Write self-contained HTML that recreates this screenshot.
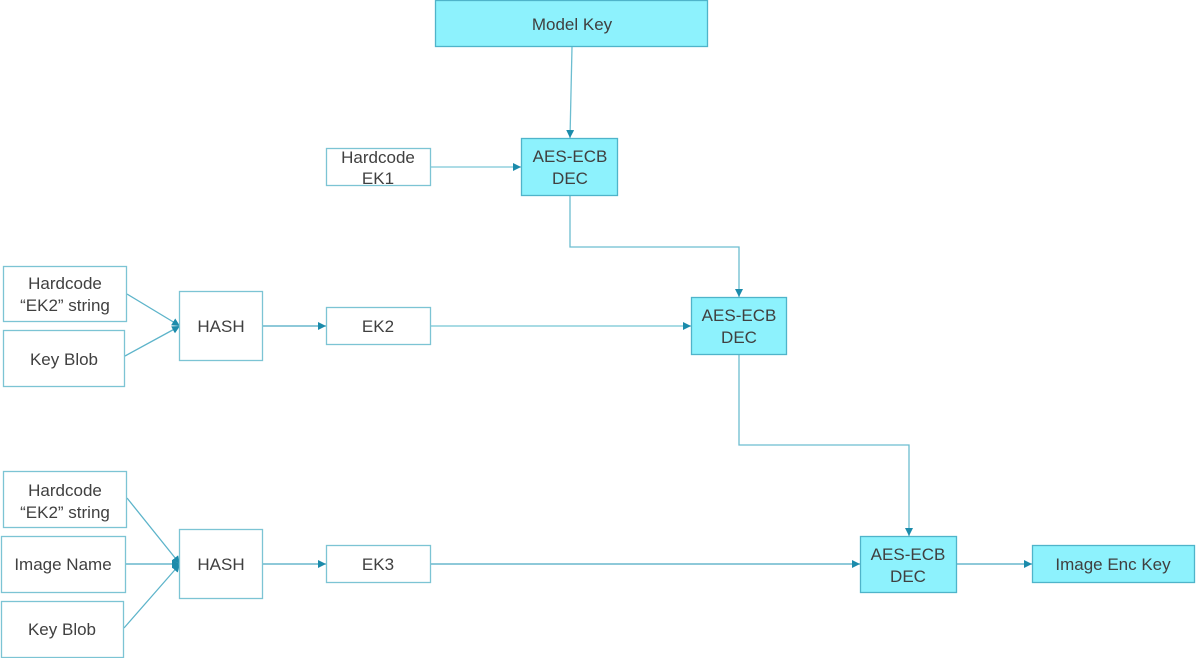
<!DOCTYPE html>
<html>
<head>
<meta charset="utf-8">
<style>
  html, body { margin: 0; padding: 0; background: #ffffff; }
  body { width: 1196px; height: 658px; overflow: hidden; }
  svg { display: block; }
  text { font-family: "Liberation Sans", sans-serif; font-size: 17px; fill: #404040; text-anchor: middle; }
</style>
</head>
<body>
<svg width="1196" height="658" viewBox="0 0 1196 658" xmlns="http://www.w3.org/2000/svg">
  <defs>
    <marker id="ah" markerUnits="userSpaceOnUse" markerWidth="10" markerHeight="10" refX="8" refY="4" orient="auto">
      <path d="M0,0 L8,4 L0,8 Z" fill="#1b8bab"/>
    </marker>
  </defs>

  <!-- Connectors -->
  <g fill="none" stroke-width="1.3">
    <!-- Model Key -> AES1 -->
    <line x1="572" y1="47" x2="570" y2="138" stroke="#6cbdd0" marker-end="url(#ah)"/>
    <!-- EK1 -> AES1 -->
    <line x1="431" y1="167" x2="521" y2="167" stroke="#7cc6d6" marker-end="url(#ah)"/>
    <!-- AES1 -> AES2 -->
    <polyline points="570,196 570,247 739,247 739,297" stroke="#6cbdd0" marker-end="url(#ah)"/>
    <!-- Hardcode -> HASH -->
    <line x1="127" y1="294" x2="180" y2="326" stroke="#5db4ca" marker-end="url(#ah)"/>
    <!-- Key Blob -> HASH -->
    <line x1="125" y1="356" x2="180" y2="326" stroke="#5db4ca" marker-end="url(#ah)"/>
    <!-- HASH -> EK2 -->
    <line x1="263" y1="326" x2="326" y2="326" stroke="#4aa9c2" marker-end="url(#ah)"/>
    <!-- EK2 -> AES2 -->
    <line x1="431" y1="326" x2="691" y2="326" stroke="#8ccfdc" stroke-width="1.6" marker-end="url(#ah)"/>
    <!-- AES2 -> AES3 -->
    <polyline points="739,355 739,445 909,445 909,536" stroke="#6cbdd0" marker-end="url(#ah)"/>
    <!-- bottom hash inputs -->
    <line x1="127" y1="498" x2="180" y2="564" stroke="#5db4ca" marker-end="url(#ah)"/>
    <line x1="126" y1="564" x2="180" y2="564" stroke="#4aa9c2" marker-end="url(#ah)"/>
    <line x1="124" y1="628" x2="180" y2="564" stroke="#5db4ca" marker-end="url(#ah)"/>
    <!-- HASH2 -> EK3 -->
    <line x1="263" y1="564" x2="326" y2="564" stroke="#4aa9c2" marker-end="url(#ah)"/>
    <!-- EK3 -> AES3 -->
    <line x1="431" y1="564" x2="860" y2="564" stroke="#4aa9c2" marker-end="url(#ah)"/>
    <!-- AES3 -> Image Enc Key -->
    <line x1="957" y1="564" x2="1032" y2="564" stroke="#4aa9c2" marker-end="url(#ah)"/>
  </g>

  <!-- Cyan boxes -->
  <g fill="#8df2fd" stroke="#4fb4ca" stroke-width="1.3">
    <rect x="435.5" y="0.5" width="272" height="46"/>
    <rect x="521.5" y="138.5" width="96" height="57"/>
    <rect x="691.5" y="297.5" width="95" height="57"/>
    <rect x="860.5" y="536.5" width="96" height="56"/>
    <rect x="1032.5" y="545.5" width="162" height="37"/>
  </g>

  <!-- White boxes -->
  <g fill="#ffffff" stroke="#7cc4d4" stroke-width="1.3">
    <rect x="326.5" y="148.5" width="104" height="37"/>
    <rect x="3.5" y="266.5" width="123" height="55"/>
    <rect x="3.5" y="330.5" width="121" height="56"/>
    <rect x="179.5" y="291.5" width="83" height="69"/>
    <rect x="326.5" y="307.5" width="104" height="37"/>
    <rect x="3.5" y="471.5" width="123" height="56"/>
    <rect x="1.5" y="536.5" width="124" height="56"/>
    <rect x="1.5" y="601.5" width="122" height="56"/>
    <rect x="179.5" y="529.5" width="83" height="69"/>
    <rect x="326.5" y="545.5" width="104" height="37"/>
  </g>

  <!-- Labels -->
  <text x="572" y="30">Model Key</text>

  <text x="378" y="163">Hardcode</text>
  <text x="378" y="184">EK1</text>

  <text x="570" y="162">AES-ECB</text>
  <text x="570" y="184">DEC</text>

  <text x="65" y="289">Hardcode</text>
  <text x="65" y="311">“EK2” string</text>
  <text x="64" y="365">Key Blob</text>
  <text x="221" y="332">HASH</text>
  <text x="378" y="332">EK2</text>

  <text x="739" y="321">AES-ECB</text>
  <text x="739" y="343">DEC</text>

  <text x="65" y="496">Hardcode</text>
  <text x="65" y="518">“EK2” string</text>
  <text x="63" y="570">Image Name</text>
  <text x="62" y="635">Key Blob</text>
  <text x="221" y="570">HASH</text>
  <text x="378" y="570">EK3</text>

  <text x="908" y="560">AES-ECB</text>
  <text x="908" y="582">DEC</text>

  <text x="1113" y="570">Image Enc Key</text>
</svg>
</body>
</html>
